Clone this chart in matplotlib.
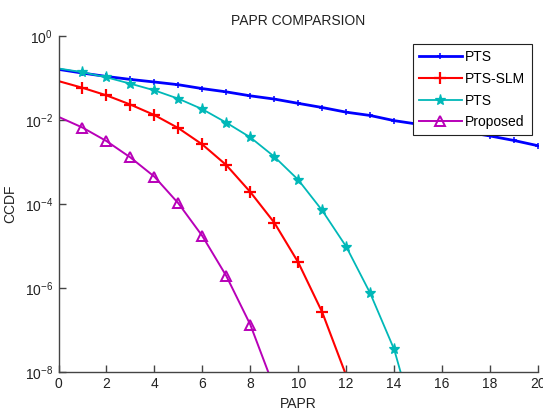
import matplotlib
matplotlib.use("Agg")
import matplotlib.pyplot as plt
import numpy as np

plt.rcParams['font.family'] = ['Liberation Sans', 'DejaVu Sans']
plt.rcParams['mathtext.fontset'] = 'custom'
plt.rcParams['mathtext.rm'] = 'Liberation Sans'
plt.rcParams['mathtext.it'] = 'Liberation Sans'

x_pts = list(range(0, 21))
ccdf_pts = [0.158, 0.129, 0.107, 0.091, 0.079, 0.068, 0.055, 0.046, 0.037, 0.031,
            0.0245, 0.0195, 0.0151, 0.0126, 0.0095, 0.0078, 0.0063, 0.0051, 0.0041,
            0.0032, 0.0024]

x_slm = list(range(0, 13))
ccdf_slm = [0.083, 0.0575, 0.038, 0.0229, 0.0129, 6.3e-3, 2.57e-3, 8.3e-4, 1.9e-4,
            3.55e-5, 4.0e-6, 2.6e-7, 8.1e-9]

x_pts2 = list(range(0, 16))
ccdf_pts2 = [0.166, 0.135, 0.102, 0.072, 0.050, 0.0316, 0.0178, 8.5e-3, 3.8e-3,
             1.32e-3, 3.7e-4, 6.9e-5, 9.5e-6, 7.4e-7, 3.4e-8, 3.3e-10]

x_prop = list(range(0, 10))
ccdf_prop = [0.0117, 6.5e-3, 3.1e-3, 1.26e-3, 4.4e-4, 1.02e-4, 1.7e-5, 1.9e-6,
             1.32e-7, 4.1e-9]

labels = ['PTS', 'PTS-SLM', 'PTS', 'Proposed']
xticks = list(range(0, 21, 2))
yticks = [1e0, 1e-2, 1e-4, 1e-6, 1e-8]

fig = plt.figure(figsize=(5.43, 4.11), dpi=100)
ax = fig.add_axes([58.5/543, 39.3/411, (538-58.5)/543, (371.7-35.7)/411])

blue = (0, 0, 1)
red = (1, 0, 0)
cyan = (0, 0.72, 0.72)
mag = (0.72, 0, 0.72)

ax.semilogy(x_pts, ccdf_pts, '-', color=blue, lw=2.0, marker='+', ms=5, mew=1.1,
            markevery=list(range(1, len(x_pts))), label=labels[0])
ax.semilogy(x_slm, ccdf_slm, '-', color=red, lw=1.5, marker='+', ms=9, mew=1.6,
            markevery=list(range(1, len(x_slm) - 1)), label=labels[1])
ax.semilogy(x_pts2, ccdf_pts2, '-', color=cyan, lw=1.3, marker='*', ms=8, mew=0.9,
            markevery=list(range(1, len(x_pts2) - 1)), label=labels[2])
ax.semilogy(x_prop, ccdf_prop, '-', color=mag, lw=1.4, marker='^', ms=7.5, mew=1.4,
            mfc='none', markevery=list(range(1, len(x_prop) - 1)), label=labels[3])

ax.set_xlim(0, 20)
ax.set_ylim(1e-8, 1e0)
ax.set_xticks(xticks)
ax.set_yticks(yticks)
ax.yaxis.set_minor_locator(matplotlib.ticker.NullLocator())
ax.spines['top'].set_visible(False)
ax.spines['right'].set_visible(False)
for s in ['left', 'bottom']:
    ax.spines[s].set_color('#444444')
    ax.spines[s].set_linewidth(1.0)
ax.tick_params(direction='in', length=5, width=1, colors='#444444',
               labelcolor='#222222', labelsize=10, pad=4)

ax.set_title('PAPR COMPARSION', fontsize=10, color='#222222', pad=7.5)
ax.set_xlabel('PAPR', fontsize=10, color='#222222', labelpad=4)
ax.set_ylabel('CCDF', fontsize=10, color='#222222')
ax.yaxis.set_label_coords((17 - 58.5) / 479.5, 0.5)

leg = ax.legend(loc='upper right', bbox_to_anchor=(531.7/543, (411-44)/411),
                bbox_transform=fig.transFigure, fontsize=10, fancybox=False,
                framealpha=1, edgecolor='#222222', handlelength=3.1,
                handletextpad=0.25, labelspacing=0.55, borderpad=0.45,
                borderaxespad=0)
leg.get_frame().set_linewidth(0.8)

fig.savefig('out.png', dpi=100)
